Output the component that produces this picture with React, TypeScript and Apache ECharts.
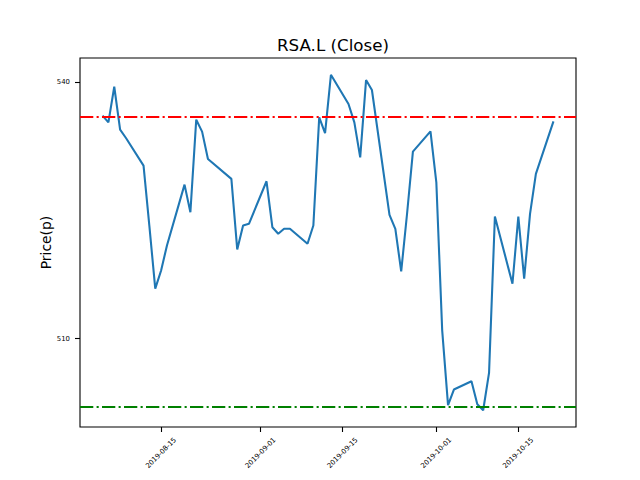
import React, { useEffect, useRef } from "react";
import * as echarts from "echarts";

const dates = [
  "2019-08-05", "2019-08-06", "2019-08-07", "2019-08-08", "2019-08-09",
  "2019-08-12", "2019-08-13", "2019-08-14", "2019-08-15", "2019-08-16",
  "2019-08-19", "2019-08-20", "2019-08-21", "2019-08-22", "2019-08-23",
  "2019-08-27", "2019-08-28", "2019-08-29", "2019-08-30",
  "2019-09-02", "2019-09-03", "2019-09-04", "2019-09-05", "2019-09-06",
  "2019-09-09", "2019-09-10", "2019-09-11", "2019-09-12", "2019-09-13",
  "2019-09-16", "2019-09-17", "2019-09-18", "2019-09-19", "2019-09-20",
  "2019-09-23", "2019-09-24", "2019-09-25", "2019-09-26", "2019-09-27",
  "2019-09-30", "2019-10-01", "2019-10-02", "2019-10-03", "2019-10-04",
  "2019-10-07", "2019-10-08", "2019-10-09", "2019-10-10", "2019-10-11",
  "2019-10-14", "2019-10-15", "2019-10-16", "2019-10-17", "2019-10-18",
  "2019-10-21",
];

const closes = [
  536.07, 535.28, 539.45, 534.43, 533.46,
  530.23, 523.16, 515.84, 517.97, 520.89,
  528.01, 524.78, 535.6, 534.2, 531.01,
  528.68, 520.43, 523.23, 523.42,
  528.4, 523.03, 522.26, 522.84, 522.84,
  521.09, 523.23, 535.87, 534.02, 540.85,
  537.43, 535.28, 531.2, 540.23, 539.07,
  524.48, 522.84, 517.86, 524.6, 531.86,
  534.23, 528.28, 510.97, 502.22, 504.05,
  505.02, 502.33, 501.63, 505.99, 524.28,
  516.42, 524.28, 517.0, 524.59, 529.26,
  535.4,
];

const upperLevel = 536.0;
const lowerLevel = 502.0;
const xTickLabels = ["2019-08-15", "2019-09-01", "2019-09-15", "2019-10-01", "2019-10-15"];
const yTickValues = [510, 540];
const chartTitle = "RSA.L (Close)";
const yAxisLabel = "Price(p)";

const toTs = (s: string) => {
  const [y, m, d] = s.split("-").map(Number);
  return Date.UTC(y, m - 1, d);
};

const pad2 = (n: number) => (n < 10 ? "0" + n : "" + n);
const fmtDate = (ts: number) => {
  const d = new Date(Math.round(ts));
  return d.getUTCFullYear() + "-" + pad2(d.getUTCMonth() + 1) + "-" + pad2(d.getUTCDate());
};

export default function App() {
  const ref = useRef<HTMLDivElement>(null);
  useEffect(() => {
    if (!ref.current) return;
    const chart = echarts.init(ref.current, undefined, { renderer: "svg" });
    const xs = dates.map(toTs);
    const xSpan = xs[xs.length - 1] - xs[0];
    const xMin = xs[0] - 0.05 * xSpan;
    const xMax = xs[xs.length - 1] + 0.05 * xSpan;
    const lo = Math.min(...closes);
    const hi = Math.max(...closes);
    const ySpan = hi - lo;
    const yMin = lo - 0.05 * ySpan;
    const yMax = hi + 0.05 * ySpan;
    const font = "DejaVu Sans";
    const dash = [13.3, 3.3, 2.1, 3.3];
    const xTickTs = xTickLabels.map(toTs);
    chart.setOption({
      animation: false,
      backgroundColor: "#fff",
      textStyle: { fontFamily: font },
      title: {
        text: chartTitle,
        left: 328,
        textAlign: "center",
        top: 31,
        textStyle: { fontFamily: font, fontSize: 16.7, fontWeight: "normal", color: "#000" },
      },
      grid: {
        left: 80,
        right: 64,
        top: 58,
        bottom: 53,
        show: true,
        borderColor: "#000",
        borderWidth: 1.1,
        backgroundColor: "transparent",
      },
      xAxis: {
        type: "value",
        min: xMin,
        max: xMax,
        splitLine: { show: false },
        axisLine: { show: false },
        axisTick: {
          show: true,
          inside: false,
          length: 5,
          lineStyle: { color: "#000", width: 1.1 },
          customValues: xTickTs,
        },
        axisLabel: {
          show: true,
          rotate: 45,
          align: "center",
          verticalAlign: "middle",
          margin: 26,
          fontSize: 6.9,
          fontFamily: font,
          color: "#000",
          customValues: xTickTs,
          formatter: (v: number) => fmtDate(v),
        },
      },
      yAxis: {
        type: "value",
        min: yMin,
        max: yMax,
        name: yAxisLabel,
        nameLocation: "middle",
        nameRotate: 90,
        nameGap: 27,
        nameMoveOverlap: false,
        nameTextStyle: { fontFamily: font, fontSize: 13.9, color: "#000" },
        splitLine: { show: false },
        axisLine: { show: false },
        axisTick: {
          show: true,
          inside: false,
          length: 5,
          lineStyle: { color: "#000", width: 1.1 },
          customValues: yTickValues,
        },
        axisLabel: {
          show: true,
          margin: 10,
          fontSize: 6.9,
          fontFamily: font,
          color: "#000",
          customValues: yTickValues,
        },
      },
      series: [
        {
          type: "line",
          data: xs.map((x, i) => [x, closes[i]]),
          showSymbol: false,
          symbol: "none",
          lineStyle: { color: "#1f77b4", width: 2.08 },
          markLine: {
            silent: true,
            symbol: "none",
            label: { show: false },
            data: [
              { yAxis: upperLevel, lineStyle: { color: "#ff0000", width: 2.08, type: dash } },
              { yAxis: lowerLevel, lineStyle: { color: "#008000", width: 2.08, type: dash } },
            ],
          },
        },
      ],
    });
    return () => chart.dispose();
  }, []);
  return (
    <div
      ref={ref}
      style={{ position: "absolute", left: 0, top: 0, width: 640, height: 480, background: "#fff" }}
    />
  );
}
